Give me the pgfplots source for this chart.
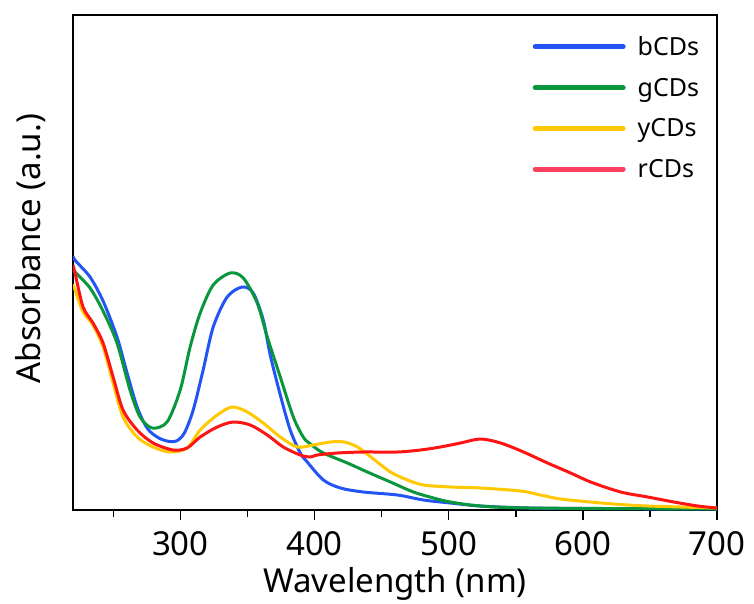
\documentclass[border=0pt]{standalone}
\usepackage{fontspec}
\setmainfont{Noto Sans}
\usepackage{pgfplots}
\pgfplotsset{compat=1.18}
\definecolor{cblue}{RGB}{35,85,245}
\definecolor{cgreen}{RGB}{10,150,60}
\definecolor{cyellow}{RGB}{255,200,0}
\definecolor{cred}{RGB}{255,20,20}
\definecolor{cpink}{RGB}{250,65,95}
\begin{document}
\begin{tikzpicture}
\begin{axis}[
  scale only axis, width=644pt, height=495pt,
  xmin=220, xmax=700, ymin=0, ymax=495,
  axis line style={line width=2pt},
  ytick=\empty,
  xtick={300,400,500,600,700},
  minor xtick={250,350,450,550,650},
  tick align=outside, xtick pos=bottom,
  major tick length=10pt, minor tick length=7pt,
  every tick/.style={black, line width=1.5pt},
  /pgf/number format/assume math mode=true,
  tick label style={font=\fontsize{33}{40}\selectfont},
  xticklabel style={anchor=base, yshift=-35pt},
  xlabel={Wavelength (nm)}, ylabel={Absorbance (a.u.)},
  every axis x label/.style={at={(axis description cs:0.5,0)}, anchor=base, yshift=-82pt, font=\fontsize{33}{40}\selectfont},
  every axis y label/.style={at={(axis description cs:0,0.528)}, rotate=90, anchor=base, yshift=32pt, font=\fontsize{33}{40}\selectfont},
  legend style={draw=none, fill=none, inner sep=0pt, at={(axis description cs:0.7135,0.961)}, anchor=north west,
    font=\fontsize{25}{30}\selectfont, row sep=17pt,
    /tikz/every odd column/.append style={column sep=10pt}},
  legend cell align=left,
  legend image code/.code={\draw[#1, line width=5pt, line cap=round] (0pt,0pt) -- (88pt,0pt);},
  every axis plot/.append style={line width=3pt, smooth},
]
\addplot[cblue, forget plot] coordinates {
(220,254) (222,249) (232.7,233) (242.4,209) (252.8,173) (260.3,137) (267.8,103) (275.2,82) (282.7,73)
(290,69) (297,69) (303,77) (309.6,100) (317,140) (324.5,183) (334.9,213) (346.1,223)
(354.3,217) (361.8,190) (367,155) (374.5,115) (381.9,80) (389.4,57) (394.6,48) (406.6,30)
(419.3,22) (436.4,18) (461.8,15) (481.2,10) (501.3,7) (523.7,4) (560,2) (600,1.5) (700,1)};
\addplot[cgreen, forget plot] coordinates {
(220,241) (221.5,238) (232.7,222) (242.4,199) (252.8,167) (262.5,120) (270,93) (279,82) (290.1,88)
(299.9,120) (307.3,163) (314.8,197) (324.5,225) (337.2,237) (346.9,232) (357.3,207) (364.8,173)
(374.5,133) (384.2,93) (391.6,73) (396.9,66) (406.6,57) (424.5,47) (439.4,38) (456.6,28)
(473.7,18) (488.7,12) (501.3,8) (523.7,4) (560,2) (700,1)};
\addplot[cyellow, forget plot] coordinates {
(220,226) (221.5,220) (227.5,198) (234.9,185) (242.4,163) (249.9,127) (257.3,93) (267.8,73)
(279.7,63) (292.4,58) (305.1,62) (314.8,80) (327.5,95) (338.7,103) (349.9,98) (361.8,87)
(374.5,73) (387.2,63) (399.1,65) (411.8,68) (422,68) (432,63) (443.9,51) (456.6,38)
(469.3,30) (481.2,25) (501.3,23) (523.7,22) (553.6,19) (568.5,15) (583.4,11) (605.8,8)
(623,6) (648.4,4) (700,2)};
\addplot[cred, forget plot] coordinates {
(220,245) (221.5,237) (227.5,203) (234.9,187) (242.4,167) (249.9,133) (257.3,100) (267.8,80)
(279.7,67) (294.6,60) (305.1,62) (314.8,73) (327.5,83) (339.4,88) (352.1,85) (364.8,75)
(376.7,63) (389.4,55) (396.9,53) (402.1,55) (417,57) (436.4,58) (461.8,58) (479,60)
(493.9,63) (508.8,67) (523.7,71) (538.7,67) (555.8,58) (573.7,47) (590.9,37) (605.8,28)
(628.2,18) (648.4,13) (667.8,8) (685.7,4) (700,2)};
\addlegendimage{cblue}\addlegendentry{bCDs}
\addlegendimage{cgreen}\addlegendentry{gCDs}
\addlegendimage{cyellow}\addlegendentry{yCDs}
\addlegendimage{cpink}\addlegendentry{rCDs}
\end{axis}
\path (-73pt,-93pt) rectangle (681pt,510pt);
\end{tikzpicture}
\end{document}
